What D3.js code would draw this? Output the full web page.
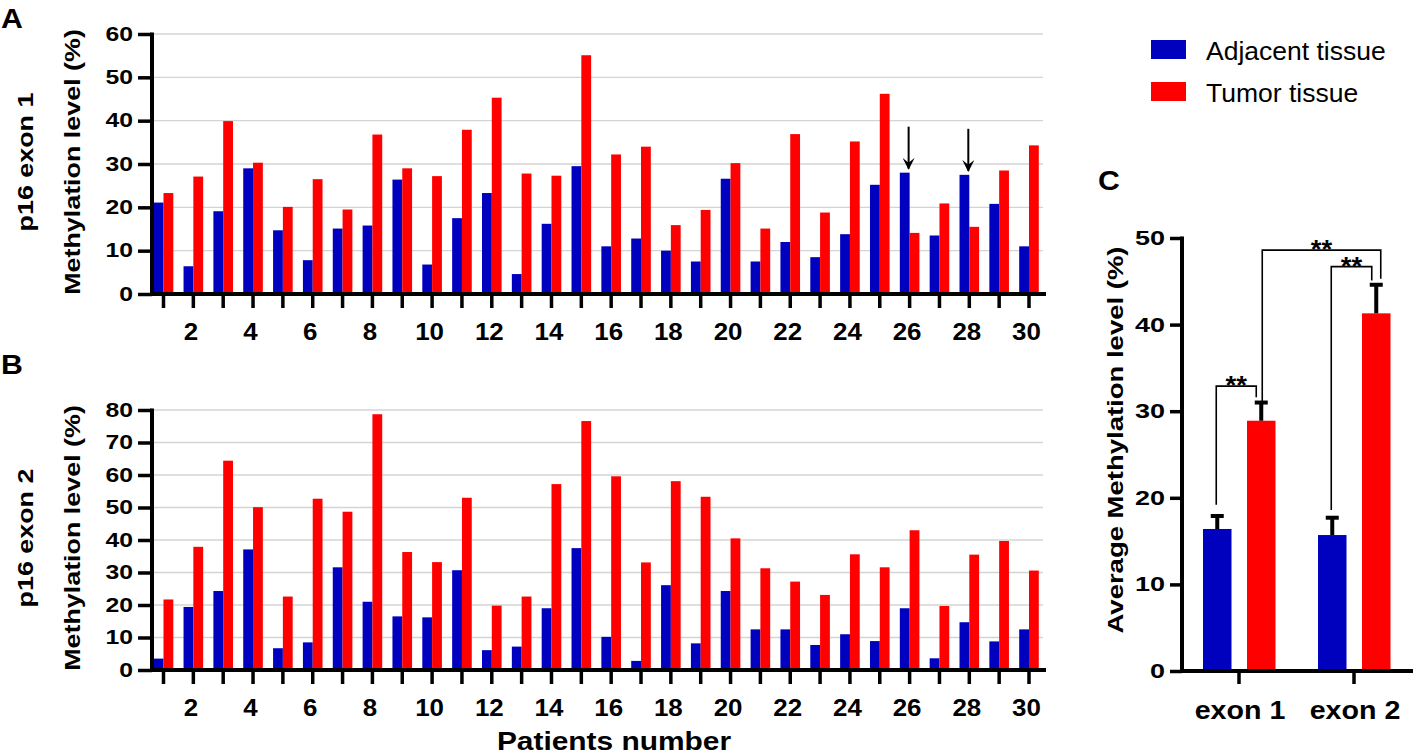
<!DOCTYPE html>
<html><head><meta charset="utf-8">
<script src="https://cdn.jsdelivr.net/npm/d3@7"></script>
<style>
body{margin:0;background:#fff;}
text{font-family:"Liberation Sans",Arial,sans-serif;}
</style></head>
<body>
<svg id="c" width="1418" height="755"></svg>
<script>
// ---------- DATA ----------
const patients = d3.range(1, 31);
const xTickLabels = [2,4,6,8,10,12,14,16,18,20,22,24,26,28,30];
const exon1Adjacent = [21.1,6.4,19.1,29.0,14.7,7.8,15.1,15.8,26.4,6.8,17.5,23.3,4.6,16.2,29.5,11.0,12.8,10.0,7.5,26.6,7.5,12.0,8.5,13.8,25.2,28.0,13.5,27.5,20.8,11.0];
const exon1Tumor    = [23.3,27.1,39.9,30.3,20.1,26.5,19.5,36.8,29.0,27.2,37.9,45.3,27.8,27.3,55.1,32.2,34.0,15.9,19.4,30.2,15.1,36.9,18.8,35.2,46.2,14.1,20.9,15.5,28.5,34.3];
const exon2Adjacent = [3.5,19.4,24.3,37.1,6.7,8.5,31.6,21.0,16.5,16.2,30.7,6.1,7.2,19.0,37.5,10.2,2.8,26.1,8.2,24.3,12.5,12.5,7.7,11.0,8.9,19.0,3.6,14.7,8.8,12.5];
const exon2Tumor    = [21.7,37.9,64.4,50.1,22.6,52.7,48.7,78.7,36.3,33.2,53.0,19.8,22.6,57.2,76.6,59.6,33.1,58.1,53.3,40.5,31.3,27.2,23.1,35.6,31.6,43.0,19.7,35.5,39.7,30.6];
const arrowPatients = [26, 28];
const yTicksA = [0,10,20,30,40,50,60];
const yTicksB = [0,10,20,30,40,50,60,70,80];
const exons = ["exon 1", "exon 2"];
const avgAdjacent = [16.4, 15.7];
const avgTumor = [28.9, 41.3];
const errAdjacent = [1.5, 2.0];
const errTumor = [2.1, 3.3];
const yTicksC = [0,10,20,30,40,50];
const seriesNames = ["Adjacent tissue", "Tumor tissue"];
// significance brackets: [left level, top level, right level]
const sigLevels = [[19.2, 32.9, 31.6],[30.4, 48.6, 45.3],[18.6, 46.7, 45.1]];
const sigLabels = ["**","**","**"];

const BLUE = "#0000bf", RED = "#ff0000";
const svg = d3.select("#c");

function txt(parent, x, y, str, o){
  const {size=20, weight="bold", anchor="start", sx=1, rot=0} = o || {};
  return parent.append("text")
    .attr("transform", `translate(${x},${y}) rotate(${rot}) scale(${sx},1)`)
    .attr("text-anchor", anchor).attr("font-size", size).attr("font-weight", weight)
    .attr("fill", "#000").text(str);
}

function styleYAxis(sel, sx, size){
  sel.select(".domain").remove();
  sel.selectAll(".tick line").attr("stroke","#000").attr("stroke-width",3.5);
  sel.selectAll(".tick text").attr("font-size",size).attr("font-weight","bold").attr("fill","#000")
    .each(function(){
      const t = d3.select(this);
      const xv = +t.attr("x");
      t.attr("x", xv/sx).attr("transform", `scale(${sx},1)`);
    });
}

function barPanel(opts){
  const {yTop, yZero, yMax, ticks, adj, tum, label1, panelLetter, letterY} = opts;
  const g = svg.append("g");
  const x = d3.scaleLinear().domain([1,30]).range([163.5, 1029]);
  const y = d3.scaleLinear().domain([0,yMax]).range([yZero, yTop]);
  const axisX0 = 152, axisX1 = 1046;
  const bw = 9.8;
  g.selectAll(".grid").data(ticks.filter(t=>t>0)).join("line")
    .attr("x1", axisX0).attr("x2", 1043)
    .attr("y1", d=>y(d)).attr("y2", d=>y(d))
    .attr("stroke", "#d4d4d4").attr("stroke-width", 1.4);
  g.selectAll(".ba").data(patients).join("rect")
    .attr("x", d=>x(d)-bw).attr("width", bw)
    .attr("y", (d,i)=>y(adj[i])).attr("height", (d,i)=>yZero-y(adj[i]))
    .attr("fill", BLUE);
  g.selectAll(".bt").data(patients).join("rect")
    .attr("x", d=>x(d)).attr("width", bw)
    .attr("y", (d,i)=>y(tum[i])).attr("height", (d,i)=>yZero-y(tum[i]))
    .attr("fill", RED);
  const ya = d3.axisLeft(y).tickValues(ticks).tickSize(14).tickPadding(5).tickFormat(d3.format("d"));
  const yg = g.append("g").attr("transform", `translate(${axisX0},0)`).call(ya);
  styleYAxis(yg, 1.27, 19.5);
  g.append("line").attr("x1",axisX0).attr("x2",axisX0).attr("y1",y(yMax)-1.5).attr("y2",yZero+2)
    .attr("stroke","#000").attr("stroke-width",4);
  g.append("line").attr("x1",axisX0-2).attr("x2",axisX1).attr("y1",yZero).attr("y2",yZero)
    .attr("stroke","#000").attr("stroke-width",4);
  g.selectAll(".xt").data(patients).join("line")
    .attr("x1", d=>x(d)).attr("x2", d=>x(d)).attr("y1", yZero).attr("y2", yZero+14)
    .attr("stroke","#000").attr("stroke-width",3.5);
  xTickLabels.forEach(d=>txt(g, x(d)-2.5, yZero+46, d, {size:24, anchor:"middle", sx:1.08}));
  const yc = (yTop+yZero)/2 - 2;
  txt(g, 33, yc, label1, {size:21.5, anchor:"middle", sx:1.25, rot:-90});
  txt(g, 80, yc, "Methylation level (%)", {size:21.5, anchor:"middle", sx:1.25, rot:-90});
  txt(g, 1, letterY, panelLetter, {size:28, sx:1.08});
  return {g, x, y};
}

const A = barPanel({yTop:34, yZero:294, yMax:60, ticks:yTicksA, adj:exon1Adjacent, tum:exon1Tumor, label1:"p16 exon 1", panelLetter:"A", letterY:28});
const B = barPanel({yTop:410, yZero:670, yMax:80, ticks:yTicksB, adj:exon2Adjacent, tum:exon2Tumor, label1:"p16 exon 2", panelLetter:"B", letterY:374});

// arrows in panel A
const defs = svg.append("defs");
defs.append("marker").attr("id","arr").attr("viewBox","0 0 10 10").attr("refX",9).attr("refY",5)
  .attr("markerWidth",6).attr("markerHeight",6).attr("orient","auto")
  .append("path").attr("d","M0,0 L10,5 L0,10 L4,5 Z").attr("fill","#000");
A.g.selectAll(".arrow").data(arrowPatients).join("line")
  .attr("x1", d=>A.x(d)-1).attr("x2", d=>A.x(d)-1)
  .attr("y1", d=>A.y(exon1Adjacent[d-1])-46).attr("y2", d=>A.y(exon1Adjacent[d-1])-4)
  .attr("stroke","#000").attr("stroke-width",2).attr("marker-end","url(#arr)");

// x axis title
txt(svg, 614, 750, "Patients number", {size:26, anchor:"middle", sx:1.15});

// ---------- Panel C ----------
const C = svg.append("g");
const cx = d3.scalePoint().domain(exons).range([1239, 1354]);
const cy = d3.scaleLinear().domain([0,50]).range([671, 238]);
const cbw = 28.5;
const offA = -36, offT = 8;
C.selectAll(".ca").data(exons).join("rect").attr("x", d=>cx(d)+offA).attr("width",cbw)
  .attr("y",(d,i)=>cy(avgAdjacent[i])).attr("height",(d,i)=>cy(0)-cy(avgAdjacent[i])).attr("fill",BLUE);
C.selectAll(".ct").data(exons).join("rect").attr("x", d=>cx(d)+offT).attr("width",cbw)
  .attr("y",(d,i)=>cy(avgTumor[i])).attr("height",(d,i)=>cy(0)-cy(avgTumor[i])).attr("fill",RED);
function errBars(vals, errs, off){
  exons.forEach((e,i)=>{
    const xc = cx(e)+off+cbw/2;
    C.append("line").attr("x1",xc).attr("x2",xc).attr("y1",cy(vals[i])).attr("y2",cy(vals[i]+errs[i]))
      .attr("stroke","#000").attr("stroke-width",4);
    C.append("line").attr("x1",xc-6.5).attr("x2",xc+6.5).attr("y1",cy(vals[i]+errs[i])).attr("y2",cy(vals[i]+errs[i]))
      .attr("stroke","#000").attr("stroke-width",4);
  });
}
errBars(avgAdjacent, errAdjacent, offA);
errBars(avgTumor, errTumor, offT);
const cya = d3.axisLeft(cy).tickValues(yTicksC).tickSize(12).tickPadding(5);
const cyg = C.append("g").attr("transform","translate(1182,0)").call(cya);
styleYAxis(cyg, 1.35, 20);
C.append("line").attr("x1",1182).attr("x2",1182).attr("y1",cy(50)-1.5).attr("y2",cy(0)+2).attr("stroke","#000").attr("stroke-width",4);
C.append("line").attr("x1",1180).attr("x2",1413).attr("y1",cy(0)).attr("y2",cy(0)).attr("stroke","#000").attr("stroke-width",4);
C.selectAll(".cxt").data(exons).join("line").attr("x1",d=>cx(d)).attr("x2",d=>cx(d)).attr("y1",cy(0)).attr("y2",cy(0)+13)
  .attr("stroke","#000").attr("stroke-width",3.5);
exons.forEach(d=>txt(C, cx(d)+1, cy(0)+48, d, {size:26, anchor:"middle", sx:1.1}));
txt(C, 1123, 440, "Average Methylation level (%)", {size:22, anchor:"middle", sx:1.25, rot:-90});
txt(C, 1098, 190, "C", {size:28, sx:1.08});
const bx = [
  [cx("exon 1")+offA+cbw/2-1, cx("exon 1")+offT+cbw/2-5],
  [cx("exon 1")+offT+cbw/2+1, cx("exon 2")+offT+cbw/2+4.5],
  [cx("exon 2")+offA+cbw/2-1, cx("exon 2")+offT+cbw/2-4.5]
];
sigLevels.forEach((lv,i)=>{
  const [xl,xr] = bx[i];
  C.append("path").attr("d",`M${xl},${cy(lv[0])} V${cy(lv[1])} H${xr} V${cy(lv[2])}`)
    .attr("fill","none").attr("stroke","#000").attr("stroke-width",1.6);
  txt(C, (xl+xr)/2, cy(lv[1])+8, sigLabels[i], {size:25, anchor:"middle", sx:1.1});
});

// ---------- Legend ----------
const L = svg.append("g");
[BLUE, RED].forEach((c,i)=>{
  L.append("rect").attr("x",1151).attr("y",40+i*42).attr("width",35).attr("height",19).attr("fill",c);
  txt(L, 1206, 60+i*42, seriesNames[i], {size:26.5, weight:"normal"});
});
</script>
</body></html>
